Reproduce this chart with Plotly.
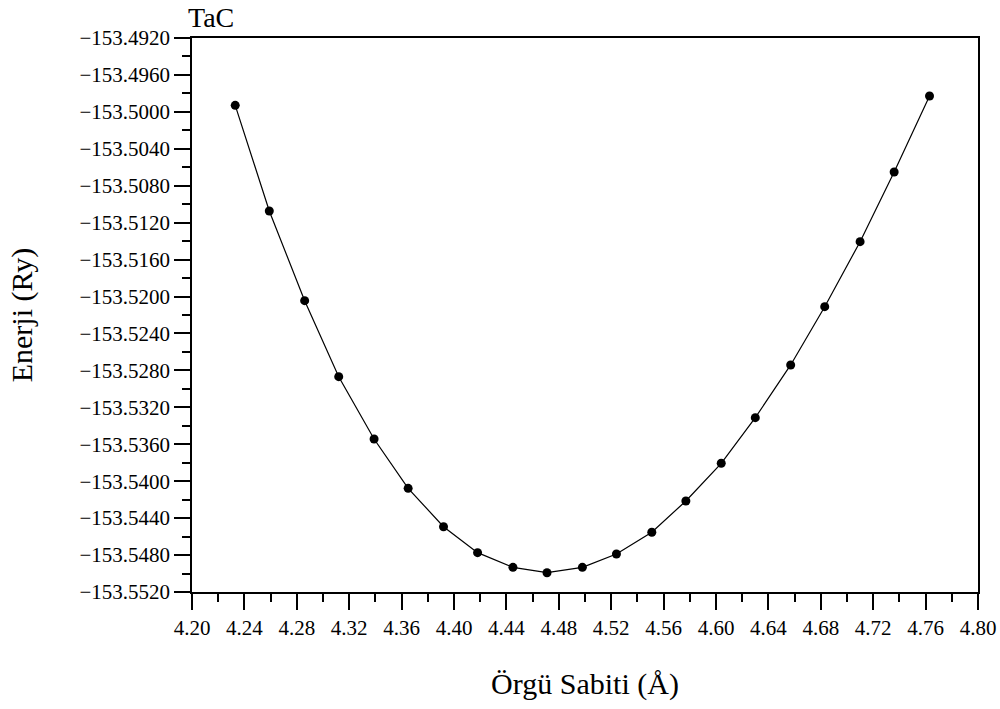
import plotly.graph_objects as go

# Data
lattice_a = [4.233, 4.259, 4.286, 4.312, 4.339, 4.365, 4.392, 4.418, 4.445, 4.471,
             4.498, 4.524, 4.551, 4.577, 4.604, 4.630, 4.657, 4.683, 4.710, 4.736, 4.763]
energy_ry = [-153.49929, -153.51074, -153.52045, -153.52868, -153.53543, -153.54077,
             -153.54493, -153.54774, -153.54933, -153.54991, -153.54933, -153.54788,
             -153.54553, -153.54214, -153.53806, -153.53312, -153.52741, -153.52110,
             -153.51406, -153.50651, -153.49828]

x_ticks = [4.20, 4.24, 4.28, 4.32, 4.36, 4.40, 4.44, 4.48, 4.52, 4.56, 4.60,
           4.64, 4.68, 4.72, 4.76, 4.80]
x_tick_labels = ["4.20", "4.24", "4.28", "4.32", "4.36", "4.40", "4.44", "4.48",
                 "4.52", "4.56", "4.60", "4.64", "4.68", "4.72", "4.76", "4.80"]
y_ticks = [-153.5520, -153.5480, -153.5440, -153.5400, -153.5360, -153.5320,
           -153.5280, -153.5240, -153.5200, -153.5160, -153.5120, -153.5080,
           -153.5040, -153.5000, -153.4960, -153.4920]
y_tick_labels = ["\u2212%.4f" % abs(v) for v in y_ticks]

FONT = "Liberation Serif"

fig = go.Figure()
fig.add_trace(go.Scatter(
    x=lattice_a, y=energy_ry, mode="lines+markers",
    line=dict(color="black", width=1.2),
    marker=dict(color="black", size=9, symbol="circle"),
    showlegend=False,
))

axis_common = dict(
    showgrid=False, zeroline=False, showline=True, linecolor="black", linewidth=1.5,
    mirror=True, ticks="outside", ticklen=16, tickwidth=1.5, tickcolor="black",
    tickfont=dict(family=FONT, size=21, color="black"), automargin=False,
)

fig.update_xaxes(
    range=[4.20, 4.80], tickmode="array", tickvals=x_ticks, ticktext=x_tick_labels,
    minor=dict(ticks="outside", ticklen=8, tickwidth=1.5, tickcolor="black", dtick=0.02, tick0=4.20, showgrid=False),
    title=dict(text="Örgü Sabiti (Å)", font=dict(family=FONT, size=30, color="black"), standoff=34),
    **axis_common,
)
fig.update_yaxes(
    range=[-153.552, -153.492], tickmode="array", tickvals=y_ticks, ticktext=y_tick_labels,
    minor=dict(ticks="outside", ticklen=8, tickwidth=1.5, tickcolor="black", dtick=0.002, tick0=-153.552, showgrid=False),
    title=dict(text="Enerji (Ry)", font=dict(family=FONT, size=30, color="black"), standoff=38),
    **axis_common,
)

fig.add_annotation(
    text="TaC", xref="paper", yref="paper", x=0, y=1, xanchor="left", yanchor="middle",
    xshift=-6, yshift=21, showarrow=False, font=dict(family=FONT, size=28, color="black"),
)

fig.update_layout(
    width=1000, height=709,
    margin=dict(l=192, r=22, t=38, b=117),
    paper_bgcolor="white", plot_bgcolor="white",
    font=dict(family=FONT, color="black"),
)

fig.write_html("out.html")
